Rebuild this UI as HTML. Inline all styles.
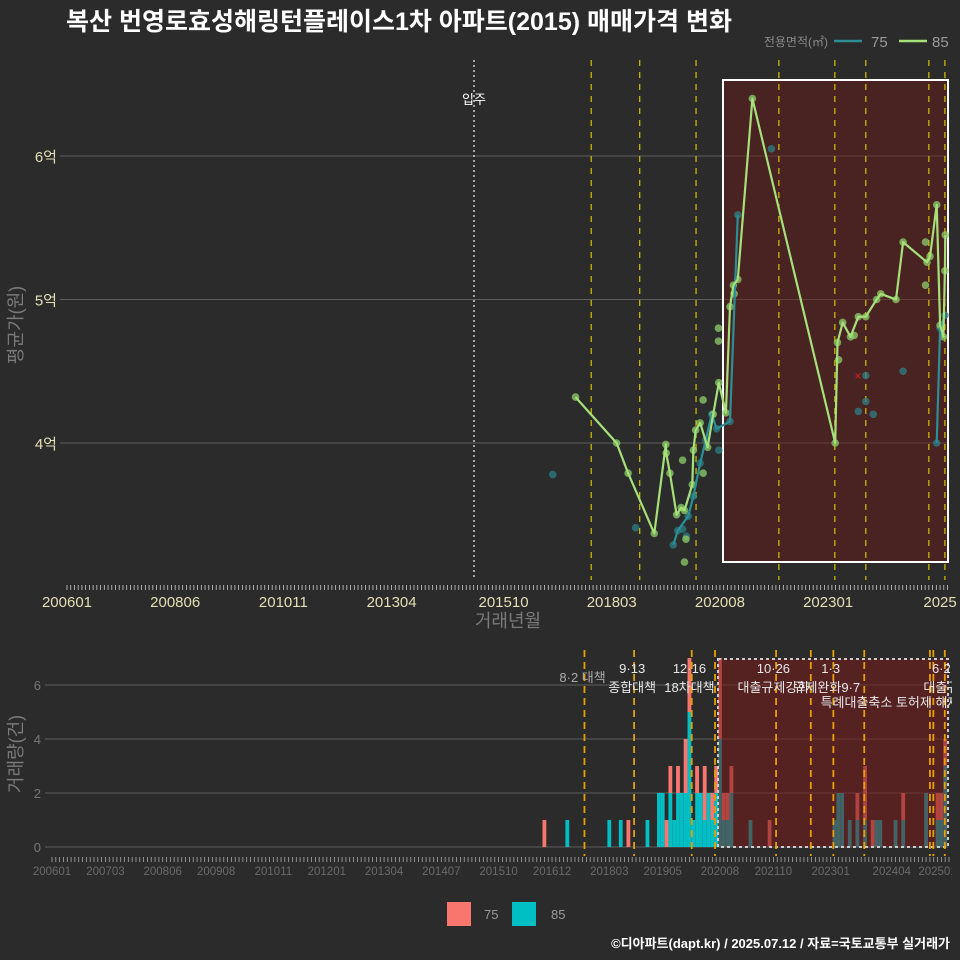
<!DOCTYPE html>
<html><head><meta charset="utf-8">
<style>
html,body{margin:0;padding:0;background:#2b2b2b;}
svg{display:block;font-family:"Liberation Sans","Noto Sans CJK KR",sans-serif;}
</style></head>
<body>
<svg id="chart" width="960" height="960" viewBox="0 0 960 960" xmlns="http://www.w3.org/2000/svg">
<rect x="0" y="0" width="960" height="960" fill="#2b2b2b"/>
<text x="66" y="30" fill="#ffffff" font-size="25" font-weight="bold">복산 번영로효성해링턴플레이스1차 아파트(2015) 매매가격 변화</text>
<g>
<text x="828" y="46" fill="#8a8a8a" font-size="12" text-anchor="end">전용면적(㎡)</text>
<line x1="834" y1="41" x2="862" y2="41" stroke="#2a8f96" stroke-width="2.5"/>
<text x="871" y="47" fill="#9a9a9a" font-size="15">75</text>
<line x1="899" y1="41" x2="927" y2="41" stroke="#a5e07a" stroke-width="2.5"/>
<text x="932" y="47" fill="#9a9a9a" font-size="15">85</text>
</g>
<g id="topg"></g>
<g id="botg"></g>
<text x="0" y="0" transform="translate(22,325) rotate(-90)" fill="#7a7a7a" font-size="18" text-anchor="middle">평균가(원)</text>
<text x="508" y="627" fill="#7a7a7a" font-size="18" text-anchor="middle">거래년월</text>
<text x="0" y="0" transform="translate(22,754) rotate(-90)" fill="#7a7a7a" font-size="18" text-anchor="middle">거래량(건)</text>
<g>
<rect x="447" y="902" width="24" height="24" fill="#f8766d"/>
<text x="484" y="919" fill="#9a9a9a" font-size="13">75</text>
<rect x="512" y="902" width="24" height="24" fill="#00bfc4"/>
<text x="551" y="919" fill="#9a9a9a" font-size="13">85</text>
</g>
<text x="950" y="948" fill="#ffffff" font-size="13" font-weight="bold" text-anchor="end">©디아파트(dapt.kr) / 2025.07.12 / 자료=국토교통부 실거래가</text>
</svg>
<script>
// ---- data (months since 2006-01; values in 억) ----
const line85Months = [136.3,147.3,150.4,157.4,160.5,160.6,161.6,163.4,164.6,165.5,167.6,167.9,168.5,169.7,171.7,173.2,174.7,176.6,177.7,178.6,179.8,183.7,205.9,206.5,207.9,210,212.1,214.1,217,218.1,222.2,224.1,230.5,231.3,233.1,234,234.9,235.3,235.4];
const line85Values = [4.32,4.0,3.79,3.37,3.99,3.93,3.79,3.50,3.55,3.53,3.71,3.95,4.09,4.14,3.97,4.20,4.42,4.21,4.95,5.10,5.14,6.40,4.0,4.70,4.84,4.74,4.88,4.88,5.00,5.04,5.00,5.40,5.26,5.30,5.66,4.82,4.74,5.20,5.45];
const line75Months = [162.5,163.7,166.5,167.9,169.7,171.2,172.8,174.1,177.7,179.8,233.1,234,235.3];
const line75Values = [3.29,3.39,3.49,3.63,3.86,4.02,4.20,4.10,4.15,5.59,4.0,4.80,4.89];
const extra75Months = [130.2,152.4,188.8,214.1,214.1,212.1,216.1,224.1,174.7,165,166];
const extra75Values = [3.78,3.41,6.05,4.47,4.29,4.22,4.20,4.50,3.95,3.40,3.35];
const extra85Months = [174.6,174.6,170.5,170.5,165.5,165.9,230.1,230.1,165,178.8,206.8,211];
const extra85Values = [4.80,4.71,4.30,3.79,3.17,3.33,5.40,5.10,3.88,5.04,4.58,4.75];
const topTickLabels = ["200601","200806","201011","201304","201510","201803","202008","202301","2025"];
const topTickMonths = [0,29,58,87,117,146,175,204,234];
const yTickValues = [4,5,6];
const yTickLabels = ["4억","5억","6억"];
const topEventMonths = [140.5,153.5,168.6,190.8,205.8,214.1,231,235.3];
const barMonths = [129,135,146,149,151,156,159,160,161,162,163,164,165,166,167,168,169,170,171,172,173,174,175,176,177,178,183,188,205,206,207,209,211,213,215,216,217,221,223,229,232,233,234];
const bar85Counts = [0,1,1,1,0,1,2,2,0,2,1,2,2,2,5,1,2,2,1,2,1,2,4,1,1,2,1,0,1,2,2,1,1,1,0,1,1,1,1,2,1,1,3];
const bar75Counts = [1,0,0,0,1,0,0,0,1,1,0,1,0,2,2,0,1,0,2,0,1,1,3,1,1,1,0,1,0,0,0,0,1,2,1,0,0,0,1,0,1,1,1];
const bottomTickLabels = ["200601","200703","200806","200908","201011","201201","201304","201407","201510","201612","201803","201905","202008","202110","202301","202404","202501"];
const bottomTickMonths = [0,14,29,43,58,72,87,102,117,131,146,160,175,189,204,220,232];
const bottomYTicks = [0,2,4,6];
const bottomEventMonths = [139.5,152.5,167.6,173.7,189.7,198.8,204.7,212.8,230,230.9,233.9];
const eventTitles = ["8·2 대책","9·13","12·16","10·26","1·3","6·2"];
const eventTitleMonths = [139,152,167,189,204,233];
const eventSubs = ["종합대책","18차대책","대출규제강화","규제완화9·7","대출규"];
const eventSubMonths = [152,167,189,203,233];

const NS = "http://www.w3.org/2000/svg";
const xTop = m => 67 + 3.731*m;
const yTop = v => 443 - (v-4)*143.5;
const xBot = m => 52 + 3.817*m;
const yBot = c => 847 - c*27;
function mk(tag, attrs, parent){ const e=document.createElementNS(NS,tag); for(const k in attrs) e.setAttribute(k,attrs[k]); parent.appendChild(e); return e; }
const gTop = document.getElementById('topg');
const gBot = document.getElementById('botg');

yTickValues.forEach((v,i)=>{
  const l = mk('line',{x1:60,x2:948,y1:yTop(v),y2:yTop(v),stroke:'#5e5e5e','stroke-width':1},gTop);
  
  
  const t = mk('text',{x:57,y:yTop(v)+6,fill:'#e6dfb5','font-size':15,'text-anchor':'end'},gTop);
  t.textContent = yTickLabels[i];
  
  
});
const hb = mk('rect',{x:723,y:80,width:225,height:482,fill:'rgba(110,25,25,0.45)',stroke:'#ffffff','stroke-width':2},gTop);


const mv = mk('line',{x1:474,x2:474,y1:60,y2:580,stroke:'#cccccc','stroke-width':1.5,'stroke-dasharray':'2,3'},gTop);


const mvt = mk('text',{x:474,y:104,fill:'#ffffff','font-size':13,'text-anchor':'middle'},gTop);
mvt.textContent='입주';


topEventMonths.forEach(m=>{
  const l = mk('line',{x1:xTop(m),x2:xTop(m),y1:60,y2:580,stroke:'#d4c400','stroke-width':1.2,'stroke-dasharray':'6,6'},gTop);
  
  
});
for(let m=0;m<=236;m+=1){
  const t = mk('line',{x1:xTop(m),x2:xTop(m),y1:585,y2:590,stroke:'#cccccc','stroke-width':0.8},gTop);
  
  
}
topTickLabels.forEach((s,i)=>{
  const t = mk('text',{x:xTop(topTickMonths[i]),y:607,fill:'#e6dfb5','font-size':15,'text-anchor':'middle'},gTop);
  t.textContent=s;
  
  
});
function pts(ms,vs,color,name){
  ms.forEach((m,i)=>{
    const c = mk('circle',{cx:xTop(m),cy:yTop(vs[i]),r:3.8,fill:color,opacity:0.75},gTop);
    
    
  });
}
pts(extra75Months,extra75Values,'#2e7f86','point-75');
pts(extra85Months,extra85Values,'#8fcf6a','point-85');
pts(line75Months,line75Values,'#2e7f86','point-75');
pts(line85Months,line85Values,'#8fcf6a','point-85');
function path(ms,vs,color,name){
  let d='';
  ms.forEach((m,i)=>{ d += (i===0 ? 'M' : (name==='line-75' && m-ms[i-1]>20 ? 'M':'L')) + xTop(m).toFixed(1)+','+yTop(vs[i]).toFixed(1); });
  const p = mk('path',{d:d,fill:'none',stroke:color,'stroke-width':2.2,'stroke-linejoin':'round'},gTop);
  
  
}
path(line75Months,line75Values,'#2a8f96','line-75');
path(line85Months,line85Values,'#a5e07a','line-85');
const xm = mk('text',{x:858,y:380,fill:'#e02020','font-size':12,'text-anchor':'middle'},gTop);
xm.textContent='×';



bottomYTicks.forEach(v=>{
  const l = mk('line',{x1:45,x2:948,y1:yBot(v),y2:yBot(v),stroke:'#5e5e5e','stroke-width':1},gBot);
  
  
  const t = mk('text',{x:41,y:yBot(v)+5,fill:'#777','font-size':13,'text-anchor':'end'},gBot);
  t.textContent=v;
  
  
});
barMonths.forEach((m,i)=>{
  const x = xBot(m)-1.9;
  const t = bar85Counts[i], r = bar75Counts[i];
  if(t>0){
    const b = mk('rect',{x:x,y:yBot(t),width:3.8,height:yBot(0)-yBot(t),fill:'#00bfc4'},gBot);
    
    
  }
  if(r>0){
    const b = mk('rect',{x:x,y:yBot(t+r),width:3.8,height:yBot(t)-yBot(t+r),fill:'#f8766d'},gBot);
    
    
  }
});
const bb = mk('rect',{x:718,y:659,width:230,height:188,fill:'rgba(120,25,25,0.55)',stroke:'#cccccc','stroke-width':2,'stroke-dasharray':'3,3'},gBot);


bottomEventMonths.forEach(m=>{
  const l = mk('line',{x1:xBot(m),x2:xBot(m),y1:650,y2:856,stroke:'#e6a000','stroke-width':1.8,'stroke-dasharray':'7,5'},gBot);
  
  
});
eventTitles.forEach((s,i)=>{
  const t = mk('text',{x:xBot(eventTitleMonths[i]),y:i===0?682:673,fill:i===0?'#aaaaaa':'#e8e8e8','font-size':13,'text-anchor':'middle'},gBot);
  t.textContent=s;
  
  
});
eventSubs.forEach((s,i)=>{
  const t = mk('text',{x:xBot(eventSubMonths[i]),y:692,fill:'#e8e8e8','font-size':13,'text-anchor':'middle'},gBot);
  t.textContent=s;
  
  
});
const sub3 = mk('text',{x:890,y:707,fill:'#e8e8e8','font-size':13,'text-anchor':'middle'},gBot);
sub3.textContent='특례대출축소 토허제 해제';


for(let m=0;m<=236;m+=1){
  const t = mk('line',{x1:xBot(m),x2:xBot(m),y1:857,y2:862,stroke:'#aaaaaa','stroke-width':0.8},gBot);
  
  
}
bottomTickLabels.forEach((s,i)=>{
  const t = mk('text',{x:xBot(bottomTickMonths[i]),y:875,fill:'#6a6a6a','font-size':11.5,'text-anchor':'middle'},gBot);
  t.textContent=s;
  
  
});
const cv = mk('rect',{x:952,y:640,width:8,height:240,fill:'#2b2b2b'},gBot);


</script>
</body></html>
